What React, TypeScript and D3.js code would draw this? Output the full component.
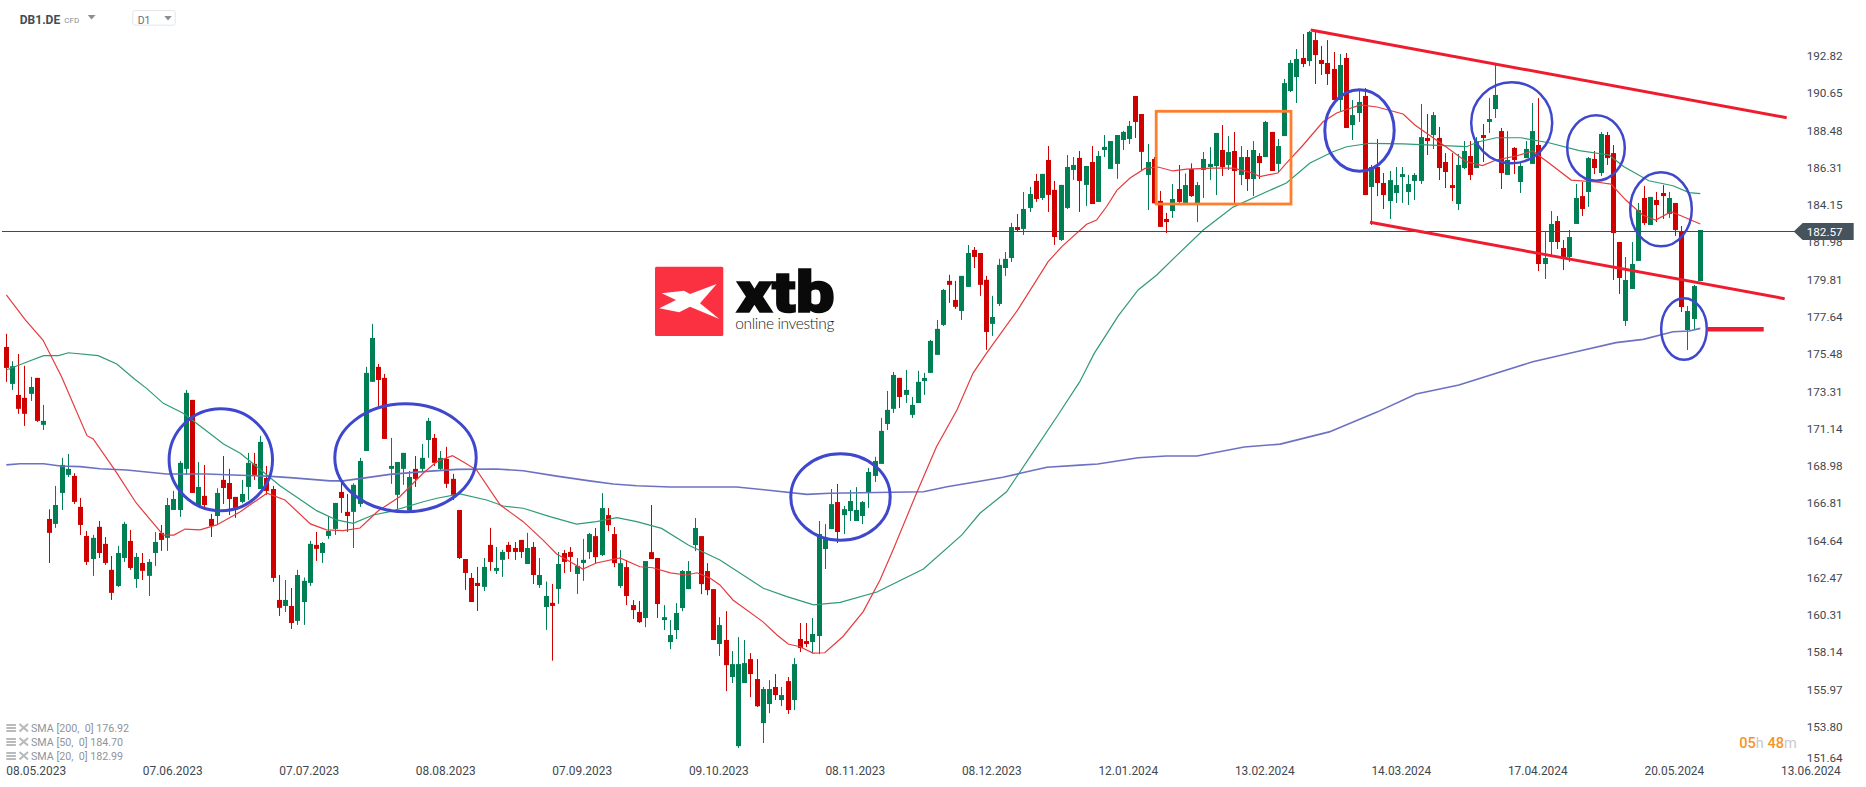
import React from "react";
import * as d3 from "d3";

const W = 1866;
const H = 787;

// Daily candles as [open, high, low, close]
const candlesMay2023: number[][] = [
[175.89,176.65,173.86,174.67],[173.74,175.06,173.39,174.77],[173.10,175.48,172.00,172.29],[172.93,174.79,171.30,172.00],[173.16,174.15,172.75,173.56],
[174.09,174.09,171.53,171.59],[171.36,172.52,171.06,171.59],[165.89,166.45,163.33,165.08],[165.60,167.81,165.37,166.70],[167.40,169.44,166.41,169.03],
[168.45,169.67,168.33,168.80],[168.39,168.55,166.76,166.88],[166.59,167.11,164.96,165.54],[164.90,165.19,163.22,163.39],[163.56,164.96,162.58,164.79],
[165.43,165.77,163.62,163.91],[164.44,164.84,163.22,163.33],[162.93,163.74,161.18,161.59],[161.99,164.32,161.94,163.91],[163.62,165.72,163.39,165.60],
[164.61,165.25,162.93,163.04],[162.40,163.91,161.88,163.68],[163.33,163.91,162.34,162.87],[162.58,163.56,161.41,163.39],[163.91,165.13,163.16,164.55],
[165.08,165.54,164.03,164.67],[164.79,167.11,164.03,166.70],[166.41,167.52,166.41,167.05],[166.41,169.26,166.01,169.15],[168.80,173.39,168.45,173.22],
[172.81,172.81,167.40,167.40],[166.65,169.20,166.65,167.75],[167.23,169.03,166.41,166.70],[165.89,166.18,164.84,165.48],[166.06,167.67,165.60,167.40],
[168.16,169.55,166.76,167.69],[167.98,168.80,166.12,167.05],[167.17,167.17,165.95,166.53],[166.88,168.16,166.80,167.34],[167.75,169.73,166.99,169.15],
[169.09,169.73,168.16,168.45],[167.63,170.72,167.63,170.37],[168.27,168.97,167.29,167.52],[167.63,167.81,162.23,162.46],[161.18,162.63,160.25,160.72],
];
const candlesJul2023: number[][] = [
[160.83,162.34,160.48,161.18],[160.83,161.88,159.49,159.84],[159.96,162.93,159.73,162.63],[161.06,162.48,159.73,162.29],[162.17,164.61,161.99,164.44],
[164.38,165.13,163.45,164.15],[163.91,164.55,163.33,164.49],[164.90,166.06,164.73,165.19],[165.31,166.82,164.96,166.82],[167.46,167.98,166.24,167.11],
[166.30,167.34,165.13,166.06],[166.30,167.96,164.20,167.87],[166.76,169.44,166.59,169.26],[169.84,174.73,169.84,174.38],[173.86,177.23,173.86,176.41],
[174.73,174.90,172.46,173.97],[174.09,174.32,170.54,170.54],[168.80,170.60,167.93,168.97],[167.29,169.20,166.41,169.20],[168.80,169.73,167.87,169.73],
[166.41,168.68,166.30,168.33],[168.80,169.55,167.75,168.22],[168.80,170.25,168.62,169.44],[170.48,171.76,169.44,171.59],[170.60,170.83,168.97,169.15],
[168.80,169.84,168.74,169.44],[169.38,170.08,167.69,167.93],[168.22,168.51,166.99,167.29],[166.41,166.41,163.56,163.62],[163.56,163.56,161.76,162.75],
[162.46,162.75,161.06,161.06],[162.17,163.10,160.54,161.99],[161.94,163.62,161.70,163.10],[164.38,165.37,162.87,163.39],[162.87,164.26,162.69,163.04],
[163.51,164.09,162.52,163.97],[164.38,164.55,163.56,163.97],[164.20,164.55,163.51,163.97],[164.67,164.67,163.62,163.97],[163.27,165.08,163.27,164.20],
[164.26,164.55,162.11,162.63],[162.05,163.62,161.88,162.63],[160.77,162.25,159.44,161.41],[161.01,162.11,157.65,160.83],[161.82,163.97,160.95,163.27],
[163.91,164.09,162.75,163.39],[163.97,164.26,162.81,163.68],[162.69,163.62,161.53,163.16],[163.33,164.73,162.29,163.51],
];
const candlesSep2023: number[][] = [
[163.96,165.07,163.56,165.01],[164.89,165.36,163.27,163.67],[163.79,167.39,163.73,166.52],[166.11,166.52,165.18,165.53],[165.01,165.42,163.09,163.32],
[161.99,164.08,161.87,163.32],[163.09,163.50,160.88,161.41],[160.88,161.17,160.07,160.59],[160.48,161.12,159.84,159.89],[160.13,163.44,159.60,163.44],
[163.96,166.70,163.56,163.56],[163.62,163.62,160.13,160.94],[160.01,160.88,159.43,160.18],[158.73,160.01,158.32,159.14],[159.43,161.00,158.91,160.42],
[160.71,162.92,160.53,162.86],[161.81,163.44,161.81,162.86],[164.37,165.94,164.02,165.36],[164.89,164.89,161.52,162.10],[162.86,163.32,161.46,161.75],
[161.81,161.81,158.85,158.85],[158.62,160.18,157.92,159.72],[158.85,160.53,155.88,157.39],[156.70,158.21,156.35,157.45],[152.68,159.02,152.57,157.45],
[156.35,158.85,156.35,157.51],[157.74,158.09,155.53,156.87],[156.58,157.74,154.95,155.00],[154.02,156.12,152.86,156.00],[155.13,156.52,154.60,156.00],
[156.12,156.87,155.36,155.65],[155.36,156.12,155.01,155.65],[156.46,156.70,154.55,154.78],[155.36,157.80,154.78,157.45],[158.91,159.84,158.15,158.38],
[158.79,159.84,158.44,158.62],[158.73,160.13,158.07,159.20],[159.08,165.77,158.03,165.01],[164.14,165.59,162.98,164.72],[165.30,167.63,165.30,166.75],
[166.87,167.92,164.49,165.13],[166.11,166.64,165.01,166.46],[166.35,167.57,165.77,166.93],[165.77,167.74,165.77,166.41],[166.06,166.93,165.59,166.87],
];
const candlesNov2023: number[][] = [
[167.40,168.86,166.53,168.62],[168.39,169.50,168.04,169.26],[169.09,171.76,169.09,171.01],[171.41,173.33,171.06,172.23],[172.29,174.44,172.05,174.26],
[174.09,174.09,172.34,172.98],[173.10,174.55,172.63,173.39],[171.94,172.98,171.76,172.52],[172.63,174.50,172.63,173.86],[173.91,174.38,173.10,174.09],
[174.38,176.30,174.38,176.24],[175.43,177.46,175.43,176.94],[177.17,179.26,177.11,179.20],[179.73,180.08,178.45,179.50],[178.62,179.73,178.10,178.22],
[177.98,180.02,177.46,180.02],[179.38,181.82,179.38,181.35],[181.53,181.70,180.48,181.12],[181.35,181.35,178.86,179.50],[179.79,180.02,175.72,176.76],
[177.23,178.86,176.53,177.63],[178.39,181.01,178.27,180.66],[180.48,181.41,180.02,181.01],[181.06,183.10,180.83,182.86],[182.86,183.62,182.63,182.69],
[182.75,184.90,182.40,183.91],[183.97,185.19,183.74,184.78],[185.54,185.95,184.32,184.49],[184.55,185.95,184.43,185.95],[186.76,187.57,183.74,184.73],
[185.02,185.54,181.82,182.28],[182.11,185.31,182.05,185.31],[183.97,187.05,183.91,186.35],[186.18,186.93,185.60,186.47],[186.88,187.28,183.74,185.54],
[185.31,186.41,184.09,186.41],[186.64,187.57,184.20,184.20],[184.32,187.28,184.32,186.99],[187.34,188.21,186.93,187.52],[186.24,187.86,186.24,187.86],
[186.53,188.21,185.66,188.21],[187.92,188.45,187.34,188.39],[187.98,189.03,187.69,188.74],[190.48,190.48,188.04,188.97],[189.43,189.43,186.18,187.23],
[185.89,187.69,183.85,186.64],[186.82,186.93,184.24,184.24],
];
const candlesJan2024: number[][] = [
[184.38,184.96,182.87,182.87],[183.33,183.68,182.51,183.15],[183.79,185.36,183.39,184.49],[185.07,186.47,184.26,184.32],[184.26,185.98,184.26,185.30],
[186.23,186.56,184.61,184.66],[184.26,185.48,183.15,185.30],[186.18,187.22,184.55,186.82],[186.35,187.51,185.59,186.53],[186.41,188.33,184.72,188.33],
[187.34,188.79,185.83,186.35],[186.47,188.15,186.18,187.22],[187.28,188.39,184.20,186.12],[185.89,187.57,185.30,186.93],[186.93,187.34,184.96,185.65],
[185.65,187.86,184.66,187.34],[186.99,187.16,185.65,186.58],[186.93,189.03,186.93,188.97],[188.39,188.39,186.12,186.12],[186.53,187.98,186.00,187.57],
[188.15,191.47,188.15,191.23],[190.77,192.57,190.71,192.40],[191.58,193.21,190.07,192.63],[192.69,194.08,192.16,192.34],[192.51,194.26,192.22,194.20],
[193.73,194.26,191.18,192.86],[192.57,193.39,191.70,192.34],[192.40,193.73,191.12,191.76],[192.05,193.04,190.25,190.25],[190.25,192.92,189.55,192.28],
[192.69,192.98,188.62,188.62],[188.79,190.25,187.92,189.37],[189.49,190.83,188.97,190.13],[190.48,190.94,184.72,184.72],[185.19,186.47,182.98,186.35],
[186.35,187.98,184.66,185.42],[185.42,186.00,183.91,184.72],[184.37,186.12,183.33,185.59],[184.84,186.35,184.26,185.30],[185.77,186.35,184.26,185.94],
[184.90,185.89,184.14,185.36],[185.54,186.00,184.43,185.89],[185.54,190.01,185.36,188.09],[188.04,189.43,187.05,187.86],[188.21,189.55,187.40,189.37],
[188.04,188.68,185.59,186.29],
];
const candlesMar2024: number[][] = [
[186.64,187.16,185.13,186.06],[185.30,187.16,184.37,185.13],[184.20,187.11,183.85,186.47],[186.29,187.86,186.23,187.28],[186.99,187.86,185.59,185.89],
[186.29,188.09,186.29,187.86],[188.21,188.85,186.64,188.04],[188.97,190.36,188.33,189.14],[189.72,192.28,189.20,190.54],[188.44,188.62,185.07,186.00],
[185.89,188.44,185.89,186.76],[187.46,187.51,185.94,186.76],[185.48,186.58,184.84,186.41],[186.87,187.86,186.87,187.40],[186.53,190.07,186.53,188.44],
[187.63,190.36,180.30,180.71],[180.71,182.63,179.84,181.06],[181.99,183.79,181.23,183.04],[183.21,183.50,181.58,181.99],[181.64,182.11,180.36,181.06],
[181.12,182.69,180.83,182.28],[183.04,185.36,183.04,184.55],[184.66,185.48,183.50,183.91],[184.90,186.93,184.03,186.87],[186.82,187.28,185.94,186.29],
[186.00,188.39,185.83,188.27],[188.21,188.39,186.47,186.87],[187.16,187.63,179.78,182.51],[181.99,181.99,178.97,179.90],[177.40,181.12,177.11,179.78],
[179.26,181.99,179.26,180.71],[180.89,184.26,180.89,183.85],[184.55,185.25,182.98,183.09],[182.98,184.61,182.98,184.61],[184.43,184.90,183.15,184.14],
[184.84,185.30,183.33,184.66],[183.62,184.90,183.39,184.55],[184.26,184.26,182.34,182.69],[182.63,182.92,177.92,178.21],[176.87,178.27,175.71,177.98],
[177.51,179.49,176.93,179.43],[179.72,182.69,179.72,182.69],
];

// Moving averages as [candle number, price]
const sma20: number[][] = [
[0,178.91],[3.06,177.46],[5.9,176.29],[8.9,174.16],[13,170.73],[14,170.54],[17.5,168.73],[20.9,166.83],[25.3,164.95],[27,164.95],[28.8,165.30],[31.2,165.25],[33.9,165.54],[37.7,166.31],[42,167.38],[44.9,166.99],[49,165.6],[51.6,165.25],[54.3,165.21],[57,165.36],[59.9,166.35],[63.4,167.18],[67.2,168.56],[69.4,169.22],[71.9,169.57],[73.6,169.22],[75.8,168.73],[79.6,166.70],[83.3,165.73],[86.5,164.66],[88.7,163.85],[92.9,162.98],[95.1,163.33],[98.9,163.62],[102.1,163.11],[104.2,163.05],[107,162.75],[109.6,162.63],[111.3,162.76],[113.4,162.45],[115,162.05],[117.1,161.18],[121.9,159.92],[124.2,159.14],[126,158.62],[127.9,158.46],[130,158.09],[131.9,158.11],[134.8,159.04],[138.1,160.50],[140.8,162.34],[142.9,164.08],[146.7,167.40],[149.9,170.09],[153.2,172.22],[155.8,174.37],[158,175.54],[163,178.04],[167.9,180.85],[170.1,181.72],[174.1,183.02],[175.7,183.27],[177.3,184.04],[179,185.01],[181.1,185.71],[183.5,186.27],[185.6,186.35],[188,186.12],[190.2,186.23],[194.5,186.29],[197.7,186.29],[200.9,186],[202,185.79],[204.9,186],[206.3,186.58],[209,187.63],[212.2,188.98],[214.4,189.49],[218.2,189.96],[220.9,189.84],[225.1,189.43],[227,188.79],[232,187.53],[235.3,186.66],[237.9,186.43],[240.1,186.76],[243.3,186.99],[246,187.28],[248.6,186.58],[252.2,185.59],[256.2,185.48],[258.6,185.36],[261,184.43],[263.7,183.56],[265.8,183.27],[268.3,183.75],[269.6,183.56],[273,183.04],
];
const sma50: number[][] = [
[0,174.55],[3,174.97],[6,175.38],[8.4,175.38],[10,175.55],[14.8,175.38],[17.8,174.90],[20.7,174.01],[22.6,173.48],[25.3,172.61],[28.5,172.03],[31.7,171.16],[35,170.25],[37.7,169.71],[42,168.44],[44.1,167.82],[47.3,167.03],[50,166.37],[53.2,165.83],[55.9,165.63],[59.1,166.12],[61.8,166.31],[67.2,166.89],[69.4,167.09],[73.1,167.34],[77.4,166.99],[80.1,166.64],[83.3,166.51],[87.6,166.02],[91.9,165.59],[95.1,165.73],[98.4,165.96],[101.6,165.73],[105.6,165.34],[109.9,164.37],[115,163.50],[122,161.86],[125.8,161.37],[130.1,160.89],[134.4,161.04],[140.3,161.64],[147.8,162.98],[154,164.96],[156.9,166.22],[161.2,167.47],[165,169.51],[169.3,171.83],[173,173.87],[175.3,175.50],[179.2,177.69],[182.4,179.20],[185.4,180.07],[188.6,181.2],[192.9,182.69],[197.7,184.02],[203.1,184.91],[206.3,185.42],[210.1,186.58],[213.8,187.24],[216,187.53],[219.8,187.73],[225.1,187.69],[235.3,187.53],[237.3,187.82],[240.1,188.05],[244.1,188.05],[248.6,187.76],[253.5,187.30],[258.3,187.05],[260.7,186.37],[264.7,185.55],[268.6,185.26],[271.2,184.86],[273,184.80],
];
const sma200: number[][] = [
[0,169.03],[2.2,169.10],[6,169.10],[8.7,168.97],[11.9,168.93],[15.1,168.81],[19.4,168.73],[22.6,168.62],[25.8,168.50],[32.3,168.50],[37.7,168.43],[42,168.38],[45.7,168.29],[52.2,168.10],[54.3,168.10],[58.1,168.29],[61.8,168.48],[67.2,168.64],[72.6,168.77],[79,168.79],[83.3,168.69],[88.7,168.38],[94,168.10],[97.8,167.92],[101.6,167.82],[107,167.75],[117.7,167.75],[122.5,167.57],[129,167.32],[132.7,167.38],[147.8,167.47],[151.6,167.76],[156.4,168.05],[160.6,168.31],[163.4,168.54],[167.7,168.89],[173,169.02],[175.9,169.08],[182.4,169.45],[186.9,169.55],[191.9,169.55],[199.5,170.07],[205.3,170.24],[213.2,170.95],[220.9,172.10],[227.2,173.15],[234.1,173.68],[246,175.03],[253,175.61],[259.4,176.14],[263.8,176.33],[268.6,176.77],[271.2,176.82],[273,176.97],
];

const priceTicks = ["192.82","190.65","188.48","186.31","184.15","181.98","179.81","177.64","175.48","173.31","171.14","168.98","166.81","164.64","162.47","160.31","158.14","155.97","153.80","151.64"];
const dateTicks = ["08.05.2023","07.06.2023","07.07.2023","08.08.2023","07.09.2023","09.10.2023","08.11.2023","08.12.2023","12.01.2024","13.02.2024","14.03.2024","17.04.2024","20.05.2024","13.06.2024"];
const legendRows = [
  { name: "SMA [200,  0]", value: "176.92" },
  { name: "SMA [50,  0]", value: "184.70" },
  { name: "SMA [20,  0]", value: "182.99" },
];
const lastPrice = 182.57;

const candles = [...candlesMay2023, ...candlesJul2023, ...candlesSep2023, ...candlesNov2023, ...candlesJan2024, ...candlesMar2024];

const x = d3.scaleLinear().domain([0, 273]).range([6.33, 1700.3]);
const y = d3.scaleLinear().domain([196.06, 196.06 - H / 17.2]).range([0, H]);
const line = d3.line<number[]>().x((d) => x(d[0])).y((d) => y(d[1])).curve(d3.curveLinear);

const UP = "#007f55";
const DOWN = "#cf0000";
const FONT = "Roboto, sans-serif";

// Hand-drawn analyst annotations, as they sit on the screen
const ellipses = [
  { cx: 220.8, cy: 459.8, rx: 51.7, ry: 51, w: 3 },
  { cx: 405.5, cy: 457.8, rx: 70.7, ry: 54, w: 3 },
  { cx: 840.5, cy: 497, rx: 49.7, ry: 43.2, w: 3 },
  { cx: 1359.5, cy: 130.5, rx: 34.7, ry: 40.7, w: 3 },
  { cx: 1511.7, cy: 122.7, rx: 40.5, ry: 40.5, w: 2.5 },
  { cx: 1596, cy: 148, rx: 28.8, ry: 32.8, w: 2.5 },
  { cx: 1661, cy: 209.3, rx: 30.8, ry: 37, w: 2.5 },
  { cx: 1684, cy: 329, rx: 22.8, ry: 30.8, w: 2.5 },
];
const redLines = [
  { x1: 1310.7, y1: 30, x2: 1786.7, y2: 117.7, w: 2.9 },
  { x1: 1370, y1: 222.3, x2: 1784.7, y2: 298.7, w: 2.9 },
  { x1: 1707.7, y1: 329.3, x2: 1763.7, y2: 329.3, w: 4.5 },
];

function Candle({ d, i }: { d: number[]; i: number }) {
  const [o, h, l, c] = d;
  const rising = c >= o;
  const colour = rising ? UP : DOWN;
  const cx = Math.floor(x(i)) + 0.5;
  const top = y(Math.max(o, c));
  const bottom = y(Math.min(o, c));
  return (
    <g>
      <rect x={cx - 0.5} y={y(h)} width={1} height={Math.max(0, y(l) - y(h))} fill={colour} />
      <rect x={cx - 2.5} y={top} width={5} height={Math.max(1, bottom - top)} fill={colour} />
    </g>
  );
}

function LegendIcon({ top }: { top: number }) {
  return (
    <g>
      {[0, 3, 6].map((k) => (
        <rect key={k} x={6.3} y={top + k} width={9.6} height={2} fill="#b9babb" />
      ))}
      <path d={`M19.5 ${top}L28 ${top + 7.5}M28 ${top}L19.5 ${top + 7.5}`} stroke="#b9babb" strokeWidth={2.2} />
    </g>
  );
}

export default function App() {
  const priceY = y(lastPrice);
  const priceLineY = Math.round(priceY) - 0.5;
  return (
    <svg width={W} height={H} viewBox={`0 0 ${W} ${H}`} style={{ position: "fixed", left: 0, top: 0, background: "#fff", fontFamily: FONT }}>
      {/* header */}
      <text x={19.8} y={23.5} fontSize={12} fontWeight={700} fill="#434c54">DB1.DE</text>
      <text x={64.3} y={22.5} fontSize={8} fill="#8a8f94">CFD</text>
      <path d="M87.7 15L95.6 15L91.6 19.5Z" fill="#8a8f94" />
      <rect x={132.8} y={10.6} width={42.4} height={14.6} rx={2} fill="#fff" stroke="#e3e5e7" strokeWidth={1} />
      <text x={137.7} y={24} fontSize={10.5} fill="#6b7075">D1</text>
      <path d="M164.3 16L171.8 16L168 20.5Z" fill="#8a8f94" />

      {/* logo */}
      <g>
        <rect x={655} y={266.7} width={68.3} height={69.3} rx={1.5} fill="#fb3142" />
        <path d="M661.7 293.3L684 290.7L690 294L716.7 284L700 303.3L719.3 319L690 306.7L679.3 312.3L659.3 308.3L676 300Z" fill="#fff" />
        <text x={736.5} y={311.7} fontSize={58} fontWeight={900} fill="#0a0a0a" stroke="#0a0a0a" strokeWidth={1.6} textLength={98} lengthAdjust="spacingAndGlyphs" fontFamily="Roboto, sans-serif">xtb</text>
        <text x={735.3} y={329.3} fontSize={15.5} fontWeight={300} fill="#1b1b1b" textLength={99} lengthAdjust="spacing" fontFamily="Lato, Roboto, sans-serif">online investing</text>
      </g>

      {/* candles */}
      <g>{candles.map((d, i) => <Candle key={i} d={d} i={i} />)}</g>

      {/* moving averages */}
      <path d={line(sma200) || ""} fill="none" stroke="#6c72c2" strokeWidth={1.6} />
      <path d={line(sma50) || ""} fill="none" stroke="#2f9b74" strokeWidth={1.2} />
      <path d={line(sma20) || ""} fill="none" stroke="#e53b3f" strokeWidth={1.2} />

      {/* last-price line */}
      <line x1={2} x2={1795} y1={priceLineY} y2={priceLineY} stroke="#3f4a52" strokeWidth={1} />

      {/* annotations */}
      {ellipses.map((e, k) => (
        <ellipse key={k} cx={e.cx} cy={e.cy} rx={e.rx} ry={e.ry} fill="none" stroke="#3f47cc" strokeWidth={e.w} />
      ))}
      <rect x={1156.2} y={111.3} width={134.8} height={92.7} fill="none" stroke="#fd7f2b" strokeWidth={2.8} />
      {redLines.map((l, k) => (
        <line key={k} x1={l.x1} y1={l.y1} x2={l.x2} y2={l.y2} stroke="#ee1c2e" strokeWidth={l.w} />
      ))}

      {/* price axis */}
      {priceTicks.map((t) => (
        <text key={t} x={1806.7} y={Math.min(y(+t), 757.4)} dy="0.36em" fontSize={11.7} fill="#3f4850">{t}</text>
      ))}
      <path d="M1793.7 231.5L1802.7 223L1853.7 223L1853.7 240L1802.7 240Z" fill="#46535c" />
      <text x={1806.7} y={232} dy="0.36em" fontSize={11.7} fill="#ffffff">{lastPrice.toFixed(2)}</text>

      {/* date axis */}
      {dateTicks.map((t, k) => (
        <text key={t} x={x(22 * k)} y={770.7} dy="0.36em" fontSize={11.9} fill="#3f4850">{t}</text>
      ))}

      {/* indicator legend */}
      {legendRows.map((r, k) => (
        <g key={r.name}>
          <LegendIcon top={724 + 14 * k} />
          <text x={31} y={728 + 14 * k} dy="0.36em" fontSize={10.7} fill="#8f9499" style={{ whiteSpace: "pre" }}>{r.name} {r.value}</text>
        </g>
      ))}

      {/* countdown */}
      <text x={1739.3} y={742.3} dy="0.36em" fontSize={14.5} fontWeight={500} fill="#f7931e">
        05<tspan fill="#c9cacb" fontWeight={400}>h</tspan> 48<tspan fill="#c9cacb" fontWeight={400}>m</tspan>
      </text>
    </svg>
  );
}
